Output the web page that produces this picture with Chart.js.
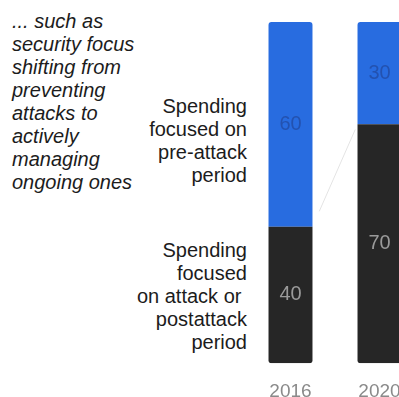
<!DOCTYPE html>
<html>
<head>
<meta charset="utf-8">
<script src="https://cdn.jsdelivr.net/npm/chart.js@4.4.1/dist/chart.umd.min.js"></script>
<style>
  html, body {
    margin: 0;
    padding: 0;
    background: #ffffff;
  }
  body {
    position: relative;
    width: 399px;
    height: 397px;
    overflow: hidden;
    font-family: "Liberation Sans", Arial, sans-serif;
  }
  .note {
    position: absolute;
    left: 12px;
    top: 10px;
    font-size: 20px;
    line-height: 23px;
    font-style: italic;
    color: #1c1c1c;
  }
  .seg-label {
    position: absolute;
    right: 152px;
    font-size: 20px;
    line-height: 23px;
    text-align: right;
    color: #1c1c1c;
    white-space: pre;
  }
  #spendChart {
    position: absolute;
    left: 246px;
    top: 0;
  }
</style>
</head>
<body>

<div class="note">... such as<br>security focus<br>shifting from<br>preventing<br>attacks to<br>actively<br>managing<br>ongoing ones</div>

<div class="seg-label" style="top: 95px;">Spending<br>focused on<br>pre-attack<br>period</div>
<div class="seg-label" style="top: 239px;">Spending<br>focused<br>on attack or <br>postattack<br>period</div>

<!-- canvas runs past the bottom edge; the year labels need the room -->
<canvas id="spendChart" width="178" height="420"></canvas>

<script>
// Security spending split, % of total
const years = ['2016', '2020'];
const postAttack = [40, 70];
const preAttack = [60, 30];

const BLUE = '#286ce0';
const DARK = '#262626';

// Writes each segment's value in the middle of its bar
const segmentValues = {
  id: 'segmentValues',
  afterDatasetsDraw(chart) {
    const ctx = chart.ctx;
    ctx.save();
    ctx.font = '300 20px "Liberation Sans", Arial, sans-serif';
    ctx.textAlign = 'center';
    ctx.textBaseline = 'middle';
    chart.data.datasets.forEach((ds, i) => {
      const meta = chart.getDatasetMeta(i);
      meta.data.forEach((bar, j) => {
        const mid = (bar.y + bar.base) / 2;
        ctx.fillStyle = ds.valueColor;
        ctx.fillText(ds.data[j], bar.x, mid);
      });
    });
    ctx.restore();
  }
};

// Faint guide line between the split points of the two bars
const splitGuide = {
  id: 'splitGuide',
  beforeDatasetsDraw(chart) {
    const bars = chart.getDatasetMeta(0).data;
    if (bars.length < 2) return;
    const a = bars[0], b = bars[1];
    const x1 = a.x + a.width / 2, y1 = a.y;
    const x2 = b.x - b.width / 2, y2 = b.y;
    const t0 = 0.15, t1 = 0.95;
    const ctx = chart.ctx;
    ctx.save();
    ctx.strokeStyle = '#e4e4e4';
    ctx.lineWidth = 1;
    ctx.beginPath();
    ctx.moveTo(x1 + (x2 - x1) * t0, y1 + (y2 - y1) * t0);
    ctx.lineTo(x1 + (x2 - x1) * t1, y1 + (y2 - y1) * t1);
    ctx.stroke();
    ctx.restore();
  }
};

new Chart(document.getElementById('spendChart'), {
  type: 'bar',
  data: {
    labels: years,
    datasets: [
      {
        label: 'Attack or postattack period',
        data: postAttack,
        backgroundColor: DARK,
        valueColor: '#9a9a9a',
        borderSkipped: false,
        borderRadius: { bottomLeft: 3, bottomRight: 3, topLeft: 0, topRight: 0 }
      },
      {
        label: 'Pre-attack period',
        data: preAttack,
        backgroundColor: BLUE,
        valueColor: '#2352b0',
        borderSkipped: 'start',
        borderRadius: { topLeft: 3, topRight: 3, bottomLeft: 0, bottomRight: 0 }
      }
    ]
  },
  options: {
    responsive: false,
    animation: false,
    categoryPercentage: 1,
    barPercentage: 0.494,
    layout: {
      padding: { top: 22, bottom: 0, left: 0, right: 0 }
    },
    plugins: {
      legend: { display: false },
      tooltip: { enabled: false }
    },
    scales: {
      x: {
        stacked: true,
        grid: { display: false, drawTicks: false },
        border: { display: false },
        ticks: {
          padding: 17,
          color: '#8a8a8a',
          font: { family: '"Liberation Sans", Arial, sans-serif', size: 19 }
        }
      },
      y: {
        stacked: true,
        display: false,
        min: 0,
        max: 100
      }
    }
  },
  plugins: [splitGuide, segmentValues]
});
</script>
</body>
</html>
